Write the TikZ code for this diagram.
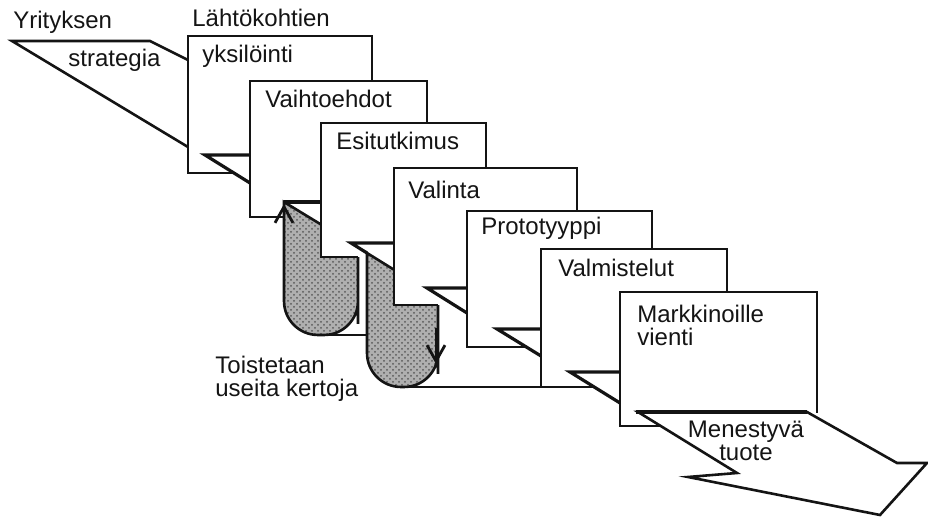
\documentclass[tikz,border=0pt]{standalone}
\usepackage{fontspec}
\setmainfont{Liberation Sans}
\usepackage{tikz}
\usetikzlibrary{arrows.meta,patterns}
\definecolor{inkblack}{RGB}{20,20,20}
\definecolor{loopgray}{RGB}{175,175,175}
\tikzset{
  card-face/.style={fill=white},
  card-edge/.style={draw=inkblack, line width=1.3pt},
  notch-line/.style={draw=inkblack, line width=1.6pt},
  loop-shade/.style={draw=inkblack, line width=1.3pt, preaction={fill=loopgray},
    pattern=crosshatch dots, pattern color=black!65},
  loop-arrow/.style={-{Straight Barb[length=8pt, width=9pt]}, line width=1.4pt, draw=inkblack},
  step-label/.style={font=\fontsize{12}{11.5}\selectfont, inner sep=0pt, anchor=base west, text=inkblack}
}

\begin{document}
\begin{tikzpicture}[x=0.5pt, y=-0.5pt]
\useasboundingbox (0,0) rectangle (928,517);

% Strategy wedge
\draw[card-edge] (188,60) -- (150,41) -- (12,41) -- (188,147);

% Card 1
\fill[card-face] (188,36) rectangle (372,173);
\draw[card-edge] (234,173) -- (188,173) -- (188,36) -- (372,36) -- (372,81);
\draw[notch-line] (250,155) -- (205,155) -- (250,183);

% Card 2 and first loop
\fill[card-face] (250,81) rectangle (427,217);
\draw[card-edge] (285,217) -- (250,217) -- (250,81) -- (427,81) -- (427,123);
\draw[loop-shade] (284,202) -- (284,290) [rounded corners=17pt] -- (284,335) -- (358,335) -- (358,290) [sharp corners] -- (358,247) -- cycle;
\draw[notch-line] (284,202) -- (321,202);
\draw[loop-arrow] (284,240) -- (284,204);
\draw[card-edge] (325,335) -- (367,335);

% Card 3 and second loop
\fill[card-face] (321,123) rectangle (486,257);
\draw[card-edge] (358,257) -- (321,257) -- (321,123) -- (486,123) -- (486,168);
\draw[loop-shade] (367,253) -- (367,340) [rounded corners=17pt] -- (367,387) -- (438,387) -- (438,340) [sharp corners] -- (438,297) -- cycle;
\draw[notch-line] (394,243) -- (351,243) -- (367,253);
\draw[loop-arrow] (436,328) -- (436,364);
\draw[card-edge] (405,387) -- (541,387);

% Card 4
\fill[card-face] (394,168) rectangle (577,305);
\draw[card-edge] (438,305) -- (394,305) -- (394,168) -- (577,168) -- (577,211);
\draw[notch-line] (467,288) -- (427,288) -- (467,313);

% Card 5
\fill[card-face] (467,211) rectangle (652,347);
\draw[card-edge] (526,347) -- (467,347) -- (467,211) -- (652,211) -- (652,249);
\draw[notch-line] (541,329) -- (497,329) -- (541,356);

% Card 6
\fill[card-face] (541,249) rectangle (727,387);
\draw[card-edge] (593,387) -- (541,387) -- (541,249) -- (727,249) -- (727,292);
\draw[notch-line] (620,372) -- (570,372) -- (620,403);

% Card 7 and final tab
\fill[card-face] (620,292) rectangle (817,426);
\draw[card-edge] (662,426) -- (620,426) -- (620,292) -- (817,292) -- (817,413);
\filldraw[card-edge, fill=white] (638,412) -- (807,412) -- (897,463) -- (927,463) -- (880,515) -- (688,477) -- (737,473) -- cycle;
\draw[notch-line, line width=1.9pt] (636,412) -- (807,412);

% Labels
\node[step-label] (yrityksen) at (13,29) {Yrityksen};
\node[step-label] (strategia) at (68,67) {strategia};
\node[step-label] (lahtokohtien) at (192,27) {Lähtökohtien};
\node[step-label] (yksilointi) at (202,63) {yksilöinti};
\node[step-label] (vaihtoehdot) at (265,108) {Vaihtoehdot};
\node[step-label] (esitutkimus) at (336,150) {Esitutkimus};
\node[step-label] (valinta) at (408,199) {Valinta};
\node[step-label] (prototyyppi) at (481,235) {Prototyyppi};
\node[step-label] (valmistelut) at (558,277) {Valmistelut};
\node[step-label, anchor=north west, align=left] (markkinoille) at (637,305) {Markkinoille\\vienti};
\node[step-label, anchor=north, align=center] (menestyva) at (746,421) {Menestyvä\\tuote};
\node[step-label, anchor=north west, align=left] (toistetaan) at (215,356) {Toistetaan\\useita kertoja};
\end{tikzpicture}
\end{document}
